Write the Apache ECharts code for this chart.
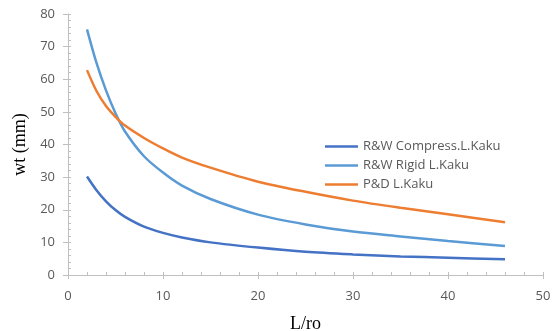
<!DOCTYPE html>
<html>
<head>
<meta charset="utf-8">
<title>wt vs L/ro</title>
<script src="https://cdn.jsdelivr.net/npm/echarts@6/dist/echarts.min.js"></script>
<style>
  html, body { margin: 0; padding: 0; background: #fff; }
  #chart { width: 560px; height: 331px; }
</style>
</head>
<body>
<div id="chart"></div>
<script>
// L/ro values where the curves were read
var lro = [2, 3, 4, 5, 6, 8, 10, 12, 15, 20, 25, 30, 35, 40, 46];
// wt (mm) per series
var rwCompress = [30.2, 26.0, 22.6, 19.9, 17.8, 14.8, 12.9, 11.5, 10.0, 8.4, 7.1, 6.3, 5.7, 5.3, 4.8];
var rwRigid = [75.3, 65.0, 56.6, 49.6, 44.0, 36.4, 31.4, 27.4, 23.3, 18.5, 15.5, 13.3, 11.8, 10.4, 8.9];
var pdKaku = [62.8, 56.4, 51.8, 48.5, 45.8, 42.0, 38.8, 36.0, 32.9, 28.6, 25.5, 22.8, 20.6, 18.6, 16.2];
var seriesNames = ["R&W Compress.L.Kaku", "R&W Rigid L.Kaku", "P&D L.Kaku"];
var seriesColors = ["#4472c4", "#5b9bd5", "#ed7d31"];

function pairs(ys) {
  return lro.map(function (x, i) { return [x, ys[i]]; });
}

var chart = echarts.init(document.getElementById("chart"));

var axisGray = "#c0c0c0";
var labelStyle = { color: "#595959", fontSize: 13, fontFamily: "Open Sans" };
var titleStyle = { color: "#000", fontSize: 18, fontFamily: "Liberation Serif" };

var option = {
  animation: false,
  grid: { left: 68, right: 17, top: 14, bottom: 56, containLabel: false, outerBoundsMode: "none" },
  legend: {
    orient: "vertical",
    left: 320,
    top: 135,
    icon: "rect",
    itemWidth: 33,
    itemHeight: 2.5,
    itemGap: 6,
    textStyle: { color: "#595959", fontSize: 13, fontFamily: "Open Sans" },
    data: seriesNames
  },
  xAxis: [
    {
      type: "value", position: "bottom",
      min: 0, max: 50, interval: 10,
      name: "L/ro", nameLocation: "middle", nameGap: 40,
      nameTextStyle: titleStyle,
      axisLine: { lineStyle: { color: axisGray } },
      axisTick: { inside: true, length: 3, lineStyle: { color: axisGray } },
      minorTick: { show: true, splitNumber: 5, length: 3, lineStyle: { color: axisGray } },
      axisLabel: Object.assign({ margin: 15 }, labelStyle),
      splitLine: { show: false }
    },
    {
      type: "value", position: "bottom",
      min: 0, max: 50, interval: 10,
      axisLine: { show: false },
      axisTick: { length: 4, lineStyle: { color: axisGray } },
      axisLabel: { show: false },
      splitLine: { show: false }
    }
  ],
  yAxis: [
    {
      type: "value", position: "left",
      min: 0, max: 80, interval: 10,
      name: "wt (mm)", nameLocation: "middle", nameGap: 38,
      nameTextStyle: titleStyle,
      axisLine: { show: true, lineStyle: { color: axisGray } },
      axisTick: { show: true, inside: true, length: 3, lineStyle: { color: axisGray } },
      minorTick: { show: true, splitNumber: 5, length: 3, lineStyle: { color: axisGray } },
      axisLabel: Object.assign({ margin: 13 }, labelStyle),
      splitLine: { show: false }
    },
    {
      type: "value", position: "left",
      min: 0, max: 80, interval: 10,
      axisLine: { show: false },
      axisTick: { show: true, length: 5, lineStyle: { color: axisGray } },
      axisLabel: { show: false },
      splitLine: { show: false }
    }
  ],
  series: [
    { name: seriesNames[0], data: pairs(rwCompress) },
    { name: seriesNames[1], data: pairs(rwRigid) },
    { name: seriesNames[2], data: pairs(pdKaku) }
  ].map(function (s, i) {
    return Object.assign({
      type: "line",
      smooth: 0.3,
      symbol: "none",
      color: seriesColors[i],
      lineStyle: { width: 2.5, color: seriesColors[i] }
    }, s);
  })
};

chart.setOption(option);
window.addEventListener("resize", function () { chart.resize(); });
</script>
</body>
</html>
